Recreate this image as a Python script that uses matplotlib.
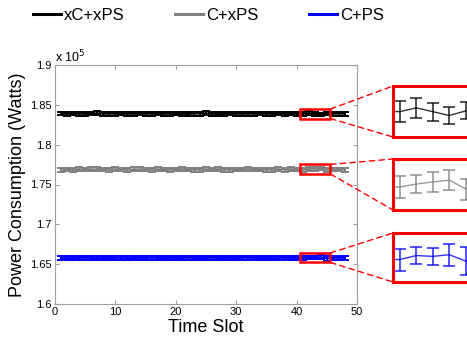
import matplotlib
matplotlib.use("Agg")
import matplotlib.pyplot as plt
from matplotlib.lines import Line2D
from matplotlib.patches import Rectangle, ConnectionPatch
import numpy as np

plt.rcParams['font.family'] = ['Liberation Sans', 'DejaVu Sans']

slots = list(range(1, 49))
series_names = ["xC+xPS", "C+xPS", "C+PS"]
series_colors = ["#000000", "#808080", "#0000ff"]

black_vals = [183900, 183870, 183920, 183880, 183850, 183900, 183930, 183870, 183890, 183860,
              183910, 183880, 183850, 183900, 183870, 183890, 183920, 183860, 183880, 183900,
              183870, 183850, 183890, 183910, 183940, 183880, 183830, 183870, 183900, 183880,
              183860, 183890, 183870, 183900, 183880, 183850, 183890, 183870, 183900, 183880,
              183870, 183960, 183870, 183780, 183890, 183880, 183900, 183870]
black_err = [230, 220, 240, 230, 210, 230, 250, 220, 230, 240,
             220, 230, 240, 220, 230, 250, 230, 220, 240, 230,
             220, 230, 240, 250, 230, 220, 230, 240, 230, 220,
             230, 240, 220, 230, 250, 230, 220, 240, 230, 220,
             240, 240, 210, 210, 200, 230, 240, 220]

gray_vals = [176860, 176880, 176850, 176900, 176870, 176890, 176920, 176880, 176860, 176900,
             176870, 176850, 176890, 176910, 176880, 176860, 176900, 176880, 176870, 176890,
             176920, 176880, 176860, 176870, 176900, 176880, 176910, 176870, 176850, 176890,
             176880, 176900, 176870, 176890, 176860, 176880, 176910, 176870, 176900, 176880,
             176860, 176930, 176980, 177020, 176810, 176880, 176900, 176870]
gray_err = [240, 230, 250, 240, 230, 250, 240, 230, 240, 250,
            230, 240, 250, 240, 230, 240, 250, 230, 240, 240,
            250, 230, 240, 250, 240, 230, 240, 250, 240, 230,
            240, 250, 230, 240, 240, 250, 230, 240, 250, 240,
            260, 220, 240, 230, 250, 240, 230, 240]

blue_vals = [165780, 165760, 165790, 165770, 165800, 165780, 165750, 165790, 165770, 165780,
             165800, 165760, 165780, 165790, 165770, 165810, 165780, 165760, 165790, 165780,
             165770, 165800, 165790, 165760, 165780, 165800, 165770, 165790, 165780, 165760,
             165790, 165800, 165780, 165770, 165790, 165760, 165800, 165780, 165790, 165770,
             165760, 165860, 165840, 165880, 165720, 165780, 165800, 165770]
blue_err = [260, 240, 270, 250, 260, 240, 270, 260, 250, 240,
            260, 270, 250, 240, 260, 270, 250, 260, 240, 270,
            250, 260, 270, 240, 250, 260, 270, 250, 240, 260,
            270, 250, 260, 240, 270, 260, 250, 240, 260, 270,
            270, 210, 210, 270, 340, 260, 250, 260]

all_vals = [black_vals, gray_vals, blue_vals]
all_errs = [black_err, gray_err, blue_err]

y_ticks = [160000, 165000, 170000, 175000, 180000, 185000, 190000]
x_ticks = [0, 10, 20, 30, 40, 50]

W, H = 467, 343
fig = plt.figure(figsize=(W / 100, H / 100), dpi=100)

def fx(px):
    return px / W

def fy(py):
    return 1 - py / H

left, right, top, bottom = 55, 357, 65, 304
ax = fig.add_axes([fx(left), fy(bottom), fx(right - left), (bottom - top) / H])

for vals, errs, col in zip(all_vals, all_errs, series_colors):
    ax.errorbar(slots, vals, yerr=errs, color=col, lw=1.4, capsize=3, capthick=1.4, elinewidth=1.4)

ax.set_xlim(0, 50)
ax.set_ylim(160000, 190000)
ax.set_xticks(x_ticks)
ax.set_yticks(y_ticks)
ax.set_yticklabels(["%g" % (v / 1e5) for v in y_ticks])
ax.tick_params(direction='in', top=True, right=True, labelsize=8, color='#a0a0a0', length=3, pad=2.5)
for s in ax.spines.values():
    s.set_color('#a0a0a0')
ax.set_xlabel("Time Slot", fontsize=13, labelpad=1)
ax.set_ylabel("Power Consumption (Watts)", fontsize=13, labelpad=3)
fig.text(fx(55), fy(62), r"x 10$^5$", fontsize=9, va='baseline', ha='left')

# zoom rectangles and insets
zx0, zx1 = 40.6, 45.6
half = 600
inset_boxes = [(86, 137), (159, 210), (233, 282)]
inset_left = 393
inset_w = 83
for vals, errs, col, (it, ib) in zip(all_vals, all_errs, series_colors, inset_boxes):
    center = np.mean(vals[40:45])
    y0, y1 = center - half, center + half
    ax.add_patch(Rectangle((zx0, y0), zx1 - zx0, y1 - y0, fill=False, ec='red', lw=1.8, zorder=5))
    iax = fig.add_axes([fx(inset_left), fy(ib), fx(inset_w), (ib - it) / H])
    iax.errorbar(slots, vals, yerr=errs, color=col, lw=1.0, capsize=4, capthick=1.2, elinewidth=1.2, alpha=0.8)
    iax.set_xlim(zx0, zx1)
    iax.set_ylim(y0, y1)
    iax.set_xticks([])
    iax.set_yticks([])
    for s in iax.spines.values():
        s.set_color('red')
        s.set_linewidth(2.2)
    for (ya, yb) in [(y1, 1), (y0, 0)]:
        con = ConnectionPatch(xyA=(zx1, ya), coordsA=ax.transData, xyB=(0, yb), coordsB=iax.transAxes,
                              color='red', lw=1.0, ls=(0, (4, 3)))
        fig.add_artist(con)

handles = [Line2D([], [], color=c, lw=2.2) for c in series_colors]
fig.legend(handles, series_names, loc='center', bbox_to_anchor=(0.4465, fy(15)), ncol=3, frameon=False,
           fontsize=12, handlelength=1.7, handletextpad=0.2, columnspacing=3.0)

fig.savefig("out.png", dpi=100)
